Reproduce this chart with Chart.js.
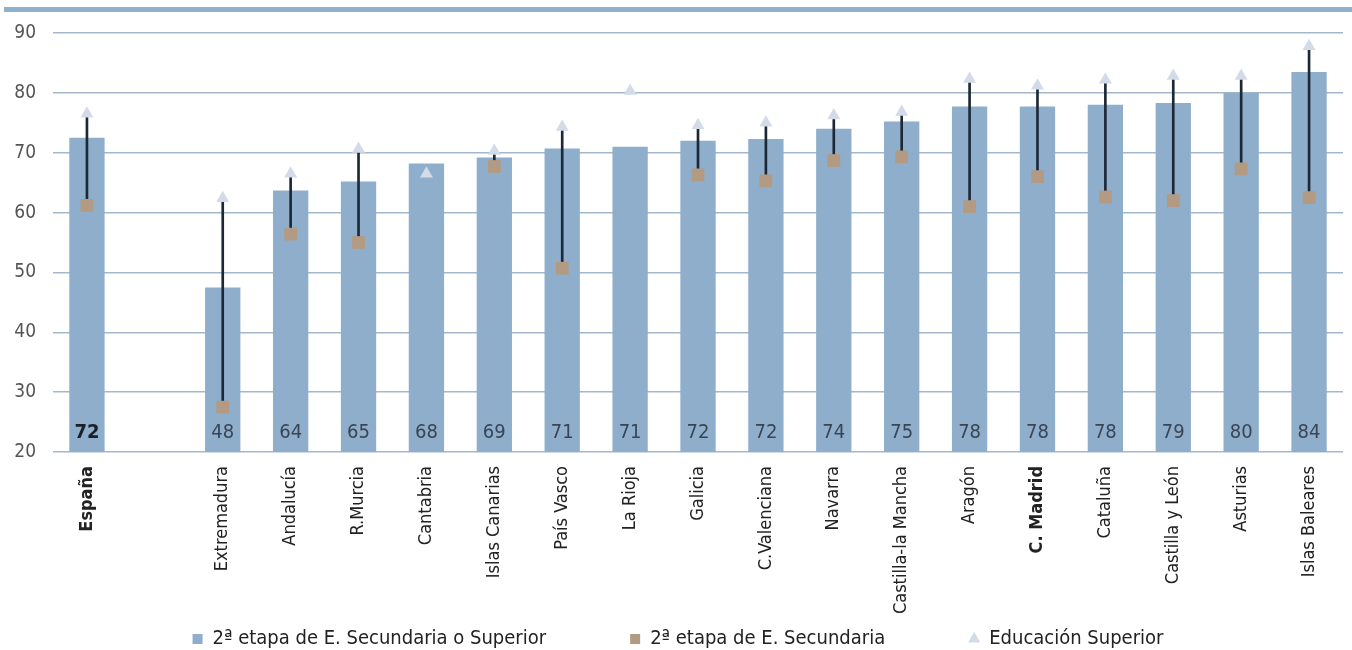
<!DOCTYPE html>
<html>
<head>
<meta charset="utf-8">
<script src="https://cdn.jsdelivr.net/npm/chart.js@4.4.0/dist/chart.umd.min.js"></script>
<style>
  html, body { margin: 0; padding: 0; background: #fff; }
  #wrap { position: relative; width: 1352px; height: 650px; }
  #band { position: absolute; left: 4px; right: 0; top: 7px; height: 5px; background: #8fb0cc; }
</style>
</head>
<body>
<div id="wrap">
  <div id="band"></div>
  <canvas id="myChart"></canvas>
</div>
<script>
// data
var regiones = ["España", "", "Extremadura", "Andalucía", "R.Murcia", "Cantabria", "Islas Canarias",
    "País Vasco", "La Rioja", "Galicia", "C.Valenciana", "Navarra", "Castilla-la Mancha",
    "Aragón", "C. Madrid", "Cataluña", "Castilla y León", "Asturias", "Islas Baleares"];
var secOSup = [72.5, null, 47.5, 63.7, 65.2, 68.2, 69.2, 70.7, 71, 72, 72.3, 74, 75.2, 77.7, 77.7, 78, 78.3, 80, 83.5];
var etiquetas = ["72", "", "48", "64", "65", "68", "69", "71", "71", "72", "72", "74", "75", "78", "78", "78", "79", "80", "84"];
var secundaria = [61.2, null, 27.5, 56.4, 55, null, 67.7, 50.7, null, 66.3, 65.3, 68.7, 69.3, 61, 66, 62.6, 62, 67.3, 62.5];
var superior = [76.5, null, 62.4, 66.5, 70.6, 66.5, 70.3, 74.3, 80.3, 74.6, 75, 76.2, 76.8, 82.3, 81.2, 82.2, 82.8, 82.8, 87.8];
var yTicks = [20, 30, 40, 50, 60, 70, 80, 90];
var negritas = ["España", "C. Madrid"];

var fuente = "'DejaVu Sans Condensed', 'Liberation Sans Narrow', 'Liberation Sans', Arial, sans-serif";

// whisker from square to triangle
var bigote = secundaria.map(function (v, i) {
    return (v === null || superior[i] === null) ? null : [v, superior[i]];
});

var valueLabels = {
    id: 'valueLabels',
    afterDatasetsDraw: function (chart) {
        var ctx = chart.ctx;
        var meta = chart.getDatasetMeta(0);
        var y = chart.scales.y.getPixelForValue(20) - 19;
        ctx.save();
        ctx.textAlign = 'center';
        ctx.textBaseline = 'middle';
        meta.data.forEach(function (bar, i) {
            if (!etiquetas[i]) return;
            var bold = i === 0;
            ctx.font = (bold ? 'bold ' : '') + '20px ' + fuente;
            ctx.fillStyle = bold ? '#1b1f26' : '#3a4554';
            ctx.fillText(etiquetas[i], bar.x, y);
        });
        ctx.restore();
    }
};

// legend takes little layout room, then is moved up to sit under the labels
var legendPos = {
    id: 'legendPos',
    afterLayout: function (chart) {
        var lg = chart.legend;
        lg.top = 545;
        lg.bottom = 650;
        lg.height = lg.bottom - lg.top;
    }
};

var ctx = document.getElementById('myChart').getContext('2d');
var chart = new Chart(ctx, {
    type: 'bar',
    data: {
        labels: regiones,
        datasets: [{
            label: "2ª etapa de E. Secundaria o Superior",
            data: secOSup,
            backgroundColor: '#8eaecb',
            barPercentage: 0.52,
            categoryPercentage: 1,
            grouped: false,
            order: 4
        }, {
            label: "bigote",
            data: bigote,
            backgroundColor: '#1d2836',
            barThickness: 2,
            grouped: false,
            order: 3
        }, {
            type: 'line',
            label: "2ª etapa de E. Secundaria",
            data: secundaria,
            showLine: false,
            pointStyle: 'rect',
            pointRadius: 9,
            pointBackgroundColor: '#b39a82',
            pointBorderWidth: 0,
            backgroundColor: '#b39a82',
            order: 2
        }, {
            type: 'line',
            label: "Educación Superior",
            data: superior,
            showLine: false,
            pointStyle: 'triangle',
            pointRadius: 7.5,
            pointBackgroundColor: '#d3dbe9',
            pointBorderWidth: 0,
            backgroundColor: '#d3dbe9',
            order: 1
        }]
    },
    options: {
        responsive: true,
        maintainAspectRatio: false,
        animation: false,
        layout: { padding: { top: 33, left: 4, right: 0, bottom: 0 } },
        scales: {
            x: {
                grid: { display: false },
                border: { display: false },
                afterFit: function (axis) {
                    axis.height = 168;
                    axis.paddingLeft = 0;
                    axis.paddingRight = 0;
                },
                ticks: {
                    autoSkip: false,
                    minRotation: 90,
                    maxRotation: 90,
                    padding: 6,
                    color: '#222',
                    font: function (c) {
                        var bold = negritas.indexOf(regiones[c.index]) >= 0;
                        return { family: fuente, size: 18, weight: bold ? 'bold' : 'normal' };
                    }
                }
            },
            y: {
                min: 20,
                max: 90,
                afterBuildTicks: function (axis) {
                    axis.ticks = yTicks.map(function (v) { return { value: v }; });
                },
                afterFit: function (axis) {
                    axis.width = 49;
                    axis.paddingTop = 0;
                },
                grid: { color: '#a3b8cc', lineWidth: 1.5, drawTicks: false },
                border: { display: false },
                ticks: { color: '#555', padding: 17, font: { family: fuente, size: 19 } }
            }
        },
        plugins: {
            tooltip: { enabled: false },
            legend: {
                position: 'bottom',
                maxHeight: 30,
                labels: {
                    usePointStyle: true,
                    boxWidth: 10,
                    boxHeight: 10,
                    padding: 84,
                    color: '#222',
                    font: { family: fuente, size: 20 },
                    generateLabels: function (chart) {
                        var items = Chart.defaults.plugins.legend.labels.generateLabels(chart);
                        var estilos = ['rect', null, 'rect', 'triangle'];
                        return items.filter(function (it) { return it.datasetIndex !== 1; })
                            .sort(function (a, b) { return a.datasetIndex - b.datasetIndex; })
                            .map(function (it) {
                                it.pointStyle = estilos[it.datasetIndex];
                                it.lineWidth = 0;
                                it.strokeStyle = 'rgba(0,0,0,0)';
                                return it;
                            });
                    }
                }
            }
        }
    },
    plugins: [valueLabels, legendPos]
});
</script>
</body>
</html>
